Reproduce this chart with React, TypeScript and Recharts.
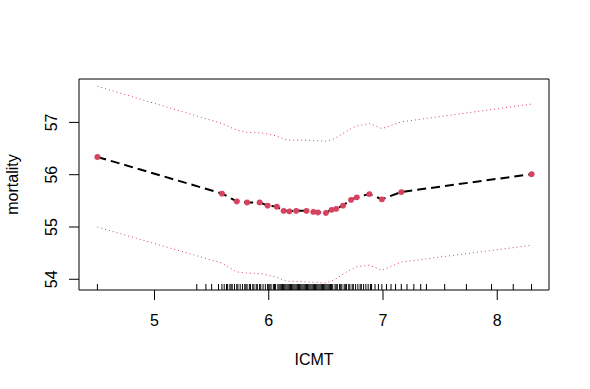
import React from 'react';
import { ComposedChart, Line, Scatter, XAxis, YAxis, ReferenceArea } from 'recharts';

// fitted mortality by ICMT, with pointwise confidence band
const icmt = [4.5, 5.59, 5.72, 5.81, 5.92, 5.99, 6.07, 6.13, 6.18, 6.24, 6.33, 6.39, 6.43, 6.5, 6.55, 6.59, 6.65, 6.72, 6.77, 6.88, 6.99, 7.16, 8.3];
const fit = [56.34, 55.64, 55.49, 55.47, 55.47, 55.41, 55.39, 55.31, 55.3, 55.31, 55.31, 55.29, 55.28, 55.27, 55.33, 55.35, 55.41, 55.52, 55.57, 55.63, 55.53, 55.67, 56.01];
const upper = [57.69, 56.98, 56.85, 56.81, 56.8, 56.78, 56.74, 56.68, 56.66, 56.66, 56.66, 56.65, 56.65, 56.64, 56.67, 56.71, 56.79, 56.88, 56.93, 56.98, 56.88, 57.01, 57.35];
const lower = [55.0, 54.31, 54.14, 54.12, 54.11, 54.08, 54.04, 53.98, 53.96, 53.96, 53.95, 53.94, 53.94, 53.93, 53.97, 54.01, 54.1, 54.19, 54.24, 54.27, 54.17, 54.33, 54.65];

// observed ICMT values (rug)
const rugValues = [
  4.5, 5.37, 5.45, 5.5, 5.56, 5.59, 5.61, 5.63, 5.64, 5.66, 5.67, 5.68, 5.7, 5.72, 5.73, 5.75, 5.77, 5.79,
  5.8, 5.81, 5.83, 5.84, 5.86, 5.87, 5.89, 5.9, 5.92, 5.93, 5.95, 5.97, 5.99, 6.0, 6.01, 6.02, 6.04, 6.05,
  6.06, 6.08, 6.09, 6.1, 6.11, 6.12, 6.13, 6.14, 6.15, 6.16, 6.17, 6.18, 6.19, 6.2, 6.21, 6.22, 6.23, 6.24,
  6.25, 6.26, 6.27, 6.28, 6.29, 6.3, 6.31, 6.32, 6.33, 6.34, 6.35, 6.36, 6.37, 6.38, 6.39, 6.4, 6.41, 6.42,
  6.43, 6.44, 6.45, 6.46, 6.47, 6.48, 6.49, 6.5, 6.51, 6.52, 6.53, 6.54, 6.55, 6.56, 6.58, 6.59, 6.6, 6.62,
  6.63, 6.64, 6.66, 6.67, 6.68, 6.7, 6.71, 6.73, 6.74, 6.76, 6.78, 6.8, 6.81, 6.83, 6.85, 6.87, 6.89, 6.9,
  6.93, 6.96, 6.99, 7.03, 7.07, 7.11, 7.16, 7.21, 7.27, 7.33, 7.38, 7.54, 7.73, 7.95, 8.14, 8.3,
];

const xTicks = [5, 6, 7, 8];
const yTicks = [54, 55, 56, 57];

const X_DOMAIN: [number, number] = [4.339, 8.453];
const Y_DOMAIN: [number, number] = [53.795, 57.83];

const RED = '#D6435F';
const FONT = '"Liberation Sans", Arial, Helvetica, sans-serif';
const FS = 16;

const curve = icmt.map((x, i) => ({ x, fit: fit[i], upper: upper[i], lower: lower[i] }));
const rug = rugValues.map((x) => ({ x, y: Y_DOMAIN[0] }));

const RugTick = (props: any) => {
  const { cx, cy } = props;
  return <line x1={cx} x2={cx} y1={cy} y2={cy - 6} stroke="#000" strokeWidth={1} />;
};

const YTick = (props: any) => {
  const { y, payload } = props;
  return (
    <text x={57} y={y} transform={`rotate(-90 57 ${y})`} textAnchor="middle" fill="#000" fontSize={FS} fontFamily={FONT}>
      {payload.value}
    </text>
  );
};

const YLabel = (props: any) => {
  const vb = props.viewBox || { y: 79, height: 211 };
  const cy = vb.y + vb.height / 2;
  return (
    <text x={18} y={cy} transform={`rotate(-90 18 ${cy})`} textAnchor="middle" fill="#000" fontSize={FS} fontFamily={FONT}>
      mortality
    </text>
  );
};

const XLabel = (props: any) => {
  const vb = props.viewBox || { x: 79, width: 470 };
  return (
    <text x={vb.x + vb.width / 2} y={365} textAnchor="middle" fill="#000" fontSize={FS} fontFamily={FONT}>
      ICMT
    </text>
  );
};

export default function App() {
  return (
    <div style={{ position: 'absolute', left: 0, top: 0, width: 590, height: 389, background: '#fff' }}>
      <ComposedChart width={590} height={389} margin={{ top: 79, right: 41, bottom: 19, left: 0 }}>
        <XAxis
          type="number"
          dataKey="x"
          domain={X_DOMAIN}
          ticks={xTicks}
          allowDataOverflow
          height={80}
          tickSize={10}
          tickMargin={15}
          axisLine={false}
          tickLine={{ stroke: '#000' }}
          tick={{ fill: '#000', fontSize: FS, fontFamily: FONT }}
          label={<XLabel />}
        />
        <YAxis
          type="number"
          domain={Y_DOMAIN}
          ticks={yTicks}
          allowDataOverflow
          width={79}
          tickSize={10}
          axisLine={false}
          tickLine={{ stroke: '#000' }}
          tick={<YTick />}
          label={<YLabel />}
        />
        <ReferenceArea x1={X_DOMAIN[0]} x2={X_DOMAIN[1]} y1={Y_DOMAIN[0]} y2={Y_DOMAIN[1]} fill="none" stroke="#000" strokeWidth={1} />
        <Scatter data={rug} dataKey="y" shape={<RugTick />} isAnimationActive={false} />
        <Line data={curve} dataKey="upper" stroke={RED} strokeWidth={1} strokeDasharray="1 3" dot={false} isAnimationActive={false} />
        <Line data={curve} dataKey="lower" stroke={RED} strokeWidth={1} strokeDasharray="1 3" dot={false} isAnimationActive={false} />
        <Line
          data={curve}
          dataKey="fit"
          stroke="#000"
          strokeWidth={2}
          strokeDasharray="9 5"
          dot={{ r: 2.8, fill: RED, stroke: RED, strokeWidth: 0.5 }}
          isAnimationActive={false}
        />
      </ComposedChart>
    </div>
  );
}
